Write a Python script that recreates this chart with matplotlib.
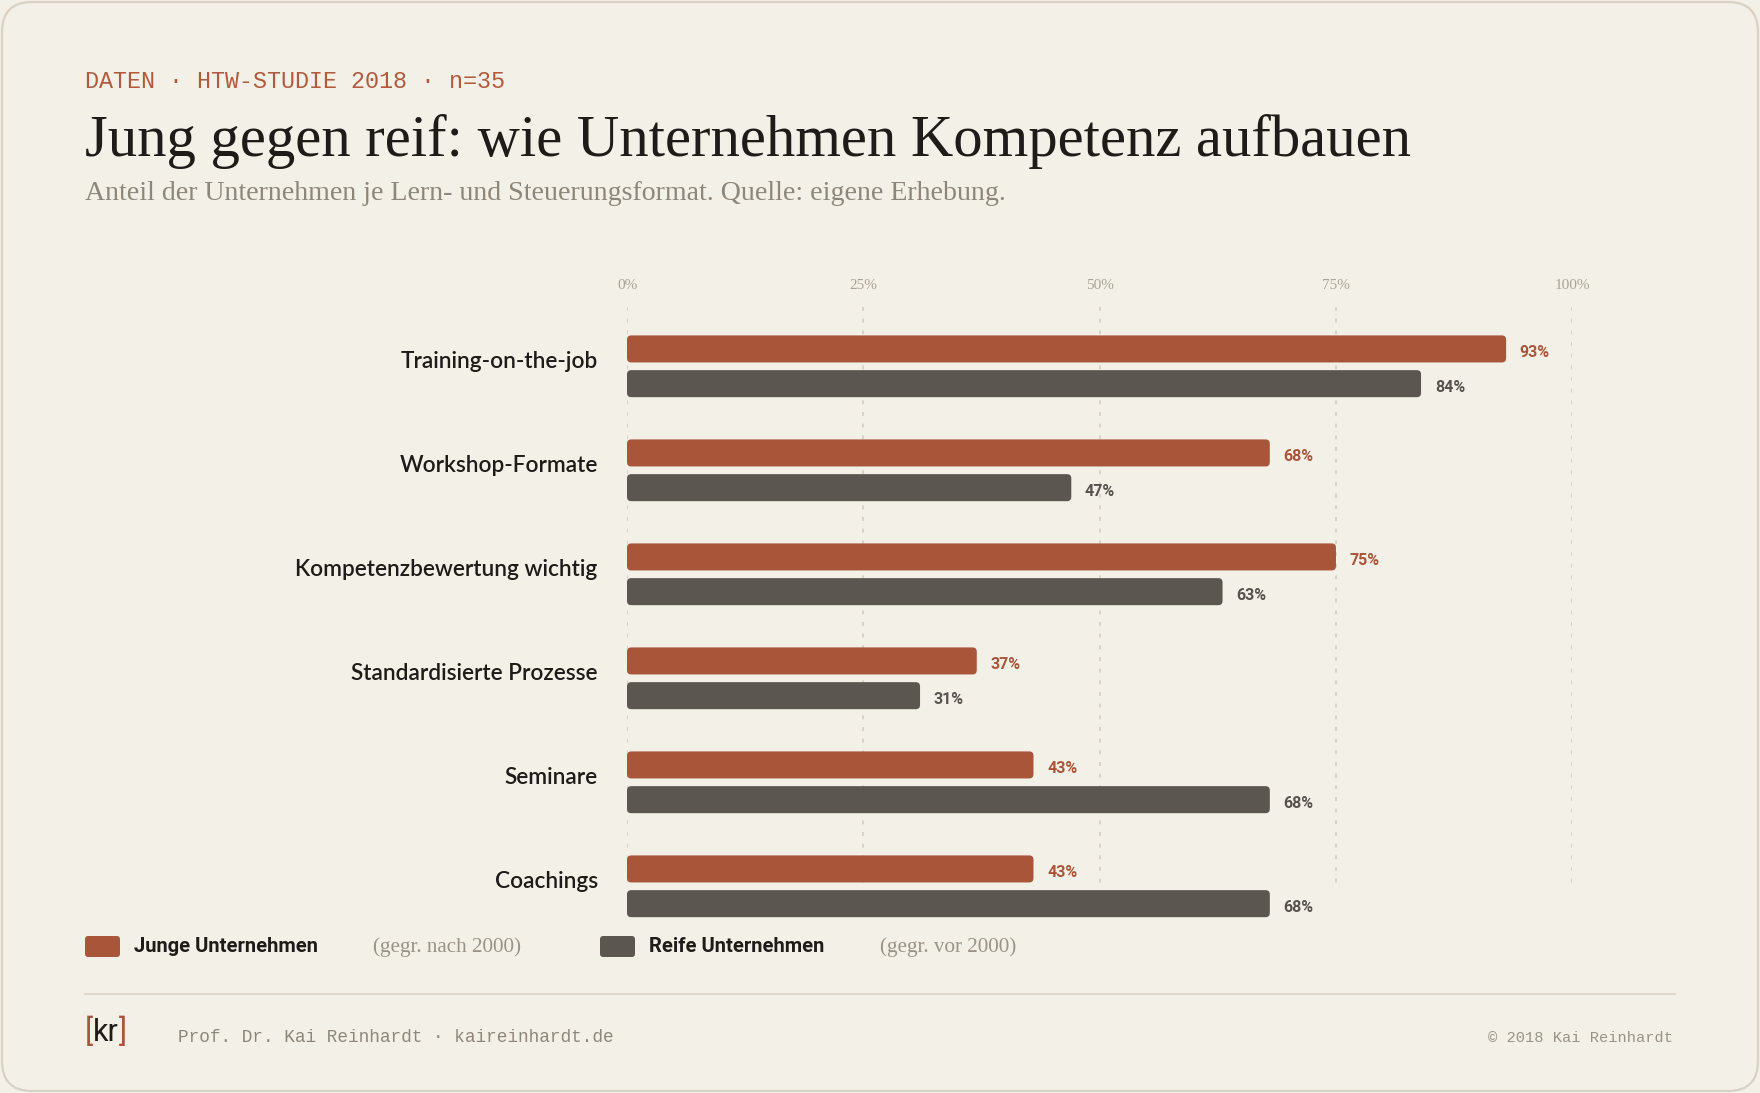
import matplotlib
matplotlib.use("Agg")
import matplotlib.pyplot as plt
from matplotlib.patches import FancyBboxPatch

# data
categories = ["Training-on-the-job", "Workshop-Formate", "Kompetenzbewertung wichtig",
              "Standardisierte Prozesse", "Seminare", "Coachings"]
junge = [93, 68, 75, 37, 43, 43]
reife = [84, 47, 63, 31, 68, 68]
ticks = [0, 25, 50, 75, 100]
series_names = ["Junge Unternehmen", "Reife Unternehmen"]
series_notes = ["(gegr. nach 2000)", "(gegr. vor 2000)"]

BG = "#f3f0e8"
RUST = "#a9553a"
DARK = "#5b5650"
INK = "#1e1b18"
GREY = "#8d867a"

W, H = 1760, 1093
fig = plt.figure(figsize=(W / 100, H / 100), dpi=100, facecolor=BG)

# overlay axes in pixel units for the card and texts
bg = fig.add_axes([0, 0, 1, 1], zorder=0)
bg.set_xlim(0, W)
bg.set_ylim(H, 0)
bg.axis("off")

card = FancyBboxPatch((2, 2), W - 4, H - 4, boxstyle="round,pad=0,rounding_size=30",
                      facecolor=BG, edgecolor="#d8d1c4", linewidth=1.6)
bg.add_patch(card)

bg.text(85, 87.5, "DATEN · HTW-STUDIE 2018 · n=35", family="Liberation Mono",
        fontsize=16.8, color="#b35a3c", va="baseline")
bg.text(85, 156, "Jung gegen reif: wie Unternehmen Kompetenz aufbauen",
        family="Liberation Serif", fontsize=42.2, color=INK, va="baseline")
bg.text(85, 200, "Anteil der Unternehmen je Lern- und Steuerungsformat. Quelle: eigene Erhebung.",
        family="Liberation Serif", fontsize=20.1, color=GREY, va="baseline")

# legend
leg_x = [85, 600]
leg_lab = [134, 649]
leg_note = [373, 880]
for x, lx, nx, name, note, col in zip(leg_x, leg_lab, leg_note, series_names,
                                      series_notes, [RUST, DARK]):
    bg.add_patch(FancyBboxPatch((x, 936), 35, 21, boxstyle="round,pad=0,rounding_size=3",
                                facecolor=col, edgecolor="none"))
    bg.text(lx, 947, name, family="Roboto", weight="bold", fontsize=14.5,
            color=INK, va="center")
    bg.text(nx, 947, note, family="Liberation Serif", fontsize=15.2,
            color="#9a9387", va="center")

# footer
bg.plot([85, 1675], [993.5, 993.5], color="#dcd5c9", lw=1.3)
r = fig.canvas.get_renderer()
x = 85
for part, col in [("[", RUST), ("kr", INK), ("]", RUST)]:
    t = bg.text(x, 1041, part, family="Roboto", fontsize=22,
                color=col, va="baseline")
    x += t.get_window_extent(r).width
bg.text(178, 1041.5, "Prof. Dr. Kai Reinhardt · kaireinhardt.de", family="Liberation Mono",
        fontsize=12.8, color=GREY, va="baseline")
bg.text(1673, 1041.5, "© 2018 Kai Reinhardt", family="Liberation Mono",
        fontsize=11.1, color="#9a9387", va="baseline", ha="right")

# chart axes: x 0..100 maps to px 627..1572, category index 0..5 to px 366..886
x0, x1 = 627, 1572.3
top, bot = 290, 930
ax = fig.add_axes([x0 / W, 1 - bot / H, (x1 - x0) / W, (bot - top) / H], zorder=1)
ax.set_facecolor("none")
ax.set_xlim(0, 100)
ax.set_ylim((bot - 366.3) / 104, (top - 366.3) / 104)
ax.axis("off")

ax.vlines(ticks, (307 - 366.3) / 104, (887 - 366.3) / 104, colors="#d9d3c7",
          linestyles=(0, (2, 4)), lw=1.4, zorder=0)
for tv in ticks:
    ax.text(tv, (285 - 366.3) / 104, f"{tv}%", family="Liberation Serif", fontsize=11,
            color="#aaa397", ha="center", va="center", clip_on=False)

aspect = (1 / 104) / (1 / 9.453)
bh, off = 0.26, 0.167
for i, (cat, a, b) in enumerate(zip(categories, junge, reife)):
    for val, col, dy in [(a, RUST, -off), (b, DARK, off)]:
        ax.add_patch(FancyBboxPatch((0, i + dy - bh / 2), val, bh,
                                    boxstyle="round,pad=0,rounding_size=0.45",
                                    mutation_aspect=aspect, facecolor=col,
                                    edgecolor="none", zorder=2))
        ax.text(val + 1.45, i + dy + 0.035, f"{val}%", family="Roboto", weight="bold",
                fontsize=11.5, color=col if col == RUST else "#57524d",
                va="center", ha="left")
    ax.text(-3.1, i - 0.045, cat, family="Lato", weight="semibold", fontsize=16.3,
            color=INK, ha="right", va="center", clip_on=False)

fig.savefig("out.png", dpi=100, facecolor=BG)
